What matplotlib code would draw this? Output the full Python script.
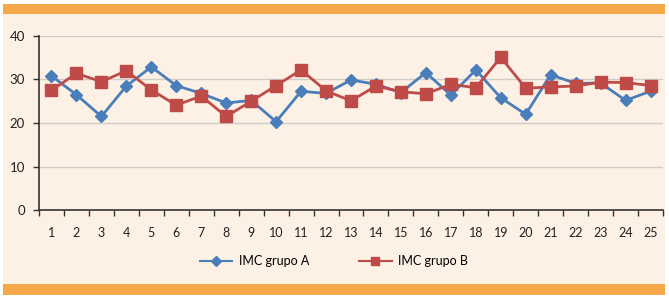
import matplotlib
matplotlib.use("Agg")
import matplotlib.pyplot as plt
from matplotlib.patches import Rectangle
from matplotlib.lines import Line2D

categories = list(range(1, 26))
grupo_a = [30.8, 26.5, 21.5, 28.5, 32.9, 28.6, 26.8, 24.6, 25.2, 20.3, 27.3, 26.8, 29.9,
           28.9, 27.0, 31.6, 26.4, 32.2, 25.8, 22.0, 31.1, 29.1, 29.2, 25.2, 27.3]
grupo_b = [27.5, 31.4, 29.5, 32.0, 27.6, 24.1, 26.2, 21.5, 25.0, 28.6, 32.2, 27.4, 25.1,
           28.5, 27.2, 26.7, 28.9, 28.1, 35.1, 28.0, 28.3, 28.5, 29.4, 29.3, 28.6]
series_names = ["IMC grupo A", "IMC grupo B"]
y_ticks = [0, 10, 20, 30, 40]

plt.rcParams['font.family'] = ['Lato', 'DejaVu Sans']

W, H = 669, 297
fig = plt.figure(figsize=(W / 100, H / 100), dpi=100)
fig.patch.set_facecolor('white')

peach = '#FDF1E5'
orange = '#F5A84A'
# background panel
fig.add_artist(Rectangle((3 / W, 1 - 295 / H), 662 / W, 291 / H, transform=fig.transFigure,
                         facecolor=peach, edgecolor='none', zorder=0))
fig.add_artist(Rectangle((3 / W, 1 - 14 / H), 662 / W, 10 / H, transform=fig.transFigure,
                         facecolor=orange, edgecolor='none', zorder=1))
fig.add_artist(Rectangle((3 / W, 1 - 295 / H), 662 / W, 11 / H, transform=fig.transFigure,
                         facecolor=orange, edgecolor='none', zorder=1))

ax = fig.add_axes([39 / W, 1 - 210 / H, (663 - 39) / W, (210 - 36) / H])
ax.set_facecolor('none')

blue = '#4A7EBB'
red = '#BE4B48'
ax.plot(categories, grupo_a, color=blue, lw=2.0, marker='D', ms=6.5, mec=blue, mfc=blue,
        zorder=3, label=series_names[0])
ax.plot(categories, grupo_b, color=red, lw=2.0, marker='s', ms=8, mec=red, mfc=red,
        zorder=3, label=series_names[1])

ax.set_xlim(0.5, 25.5)
ax.set_ylim(0, 40)
ax.set_yticks(y_ticks)
ax.set_yticklabels([str(v) for v in y_ticks])
ax.set_xticks([i + 0.5 for i in range(0, 26)])
ax.set_xticklabels([])
ax.set_xticks(categories, minor=True)
ax.set_xticklabels([str(c) for c in categories], minor=True)
ax.tick_params(axis='x', which='minor', length=0, pad=12, labelsize=9, colors='#222222')
ax.tick_params(axis='x', which='major', length=4, width=1, color='#333333')
ax.tick_params(axis='y', length=4, width=1, color='#333333', labelsize=9.5, pad=6,
               labelcolor='#222222')

ax.grid(axis='y', color='#D0CCC8', lw=1)
ax.set_axisbelow(True)
for s in ['top', 'right']:
    ax.spines[s].set_visible(False)
for s in ['left', 'bottom']:
    ax.spines[s].set_color('#333333')
    ax.spines[s].set_linewidth(1.2)

handles = [Line2D([], [], color=blue, lw=1.5, marker='D', ms=5, mfc=blue, mec=blue),
           Line2D([], [], color=red, lw=1.5, marker='s', ms=6, mfc=red, mec=red)]
fig.legend(handles, series_names, loc='center', bbox_to_anchor=(0.499, 1 - 261 / H),
           ncol=2, frameon=False, fontsize=9, handlelength=2.6, columnspacing=4.0,
           handletextpad=0.5)

fig.savefig('out.png', dpi=100, facecolor=fig.get_facecolor())
